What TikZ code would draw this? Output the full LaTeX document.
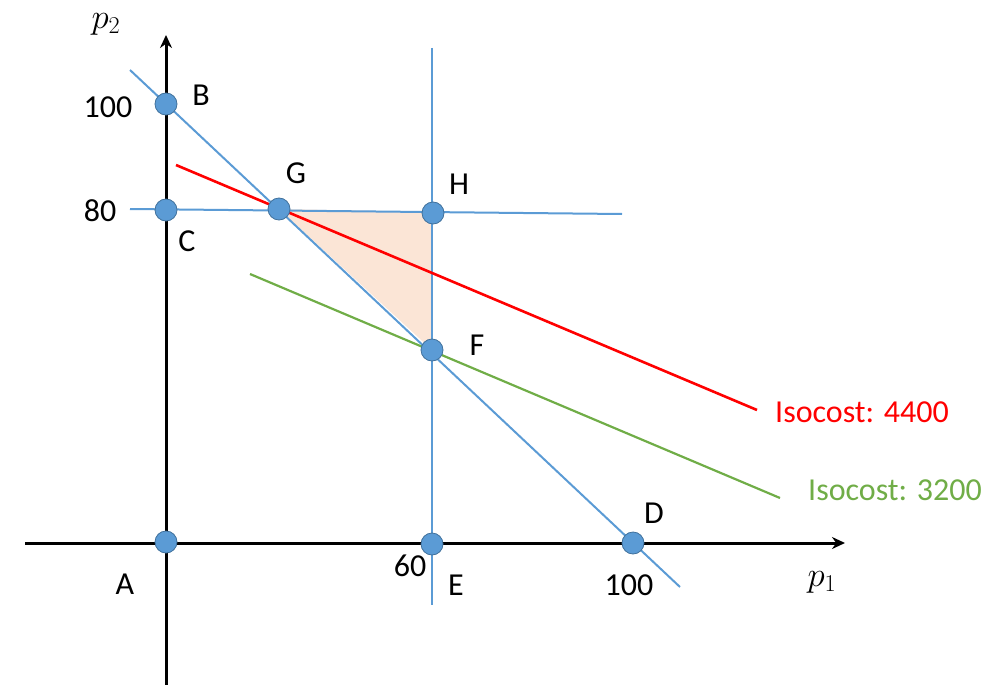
\documentclass[tikz,border=0pt]{standalone}
\usepackage{graphicx}
\usepackage{fontspec}
\setmainfont{Carlito}
\usetikzlibrary{arrows.meta}
\definecolor{lblue}{HTML}{5B9BD5}
\definecolor{dblue}{HTML}{41719C}
\definecolor{pfill}{HTML}{FBE5D6}
\definecolor{isored}{HTML}{FF0000}
\definecolor{isogreen}{HTML}{70AD47}
\tikzset{
  dot/.style={circle,fill=lblue,draw=dblue,line width=0.8pt,minimum size=22pt,inner sep=0pt},
  bline/.style={lblue,line width=2pt},
  axis/.style={black,line width=3pt,-{Stealth[length=13pt,width=12pt]}},
  lbl/.style={font=\fontsize{32}{36}\selectfont,inner sep=0pt},
  mlbl/.style={font=\fontsize{24}{28}\selectfont,inner sep=0pt}
}
\begin{document}
\begin{tikzpicture}[x=1pt,y=-1pt]
\useasboundingbox (0,0) rectangle (996,685);
% coordinates
\coordinate (Ab) at (166,685);
\coordinate (At) at (166,35);
\coordinate (Al) at (25,543);
\coordinate (Ar) at (845,543);
\coordinate (L1a) at (130,70);
\coordinate (L1b) at (680,587);
\coordinate (L2a) at (130,209);
\coordinate (L2b) at (622,214);
\coordinate (L3a) at (432,48);
\coordinate (L3b) at (432,605);
\coordinate (Ra) at (176,165);
\coordinate (Rb) at (757,410);
\coordinate (Ga) at (250,274);
\coordinate (Gb) at (780,498);
% feasible region
\fill[pfill] (279,209) -- (433,212) -- (432,350) -- cycle;
% axes
\draw[axis] (Ab) -- (At);
\draw[axis] (Al) -- (Ar);
% constraint lines
\draw[bline] (L1a) -- (L1b);
\draw[bline] (L2a) -- (L2b);
\draw[bline] (L3a) -- (L3b);
% isocost lines
\draw[isored,line width=2.6pt] (Ra) -- (Rb);
\draw[isogreen,line width=2.2pt] (Ga) -- (Gb);
% points
\node[dot] (A) at (166,542) {};
\node[dot] (B) at (166,104) {};
\node[dot] (C) at (166,210) {};
\node[dot] (G) at (279,209) {};
\node[dot] (H) at (433,213) {};
\node[dot] (F) at (432,350) {};
\node[dot] (E) at (432,544) {};
\node[dot] (D) at (633,543) {};
% labels
\node[mlbl] (p2) at (106,24) {\scalebox{1.4}{$p_2$}};
\node[mlbl] (p1) at (822,582) {\scalebox{1.4}{$p_1$}};
\node[lbl] (t100a) at (108,107) {100};
\node[lbl] (t80) at (100,211) {80};
\node[lbl] (tB) at (201,95) {B};
\node[lbl] (tC) at (187,241) {C};
\node[lbl] (tG) at (296,173) {G};
\node[lbl] (tH) at (459,184) {H};
\node[lbl] (tF) at (477,345) {F};
\node[lbl] (tD) at (654,513) {D};
\node[lbl] (t60) at (410,566) {60};
\node[lbl] (tE) at (456,585) {E};
\node[lbl] (tA) at (125,584) {A};
\node[lbl] (t100b) at (629,585) {100};
\node[lbl,text=isored,anchor=west] (i4400) at (775,412) {Isocost: 4400};
\node[lbl,text=isogreen,anchor=west] (i3200) at (808,490) {Isocost: 3200};
\end{tikzpicture}
\end{document}
